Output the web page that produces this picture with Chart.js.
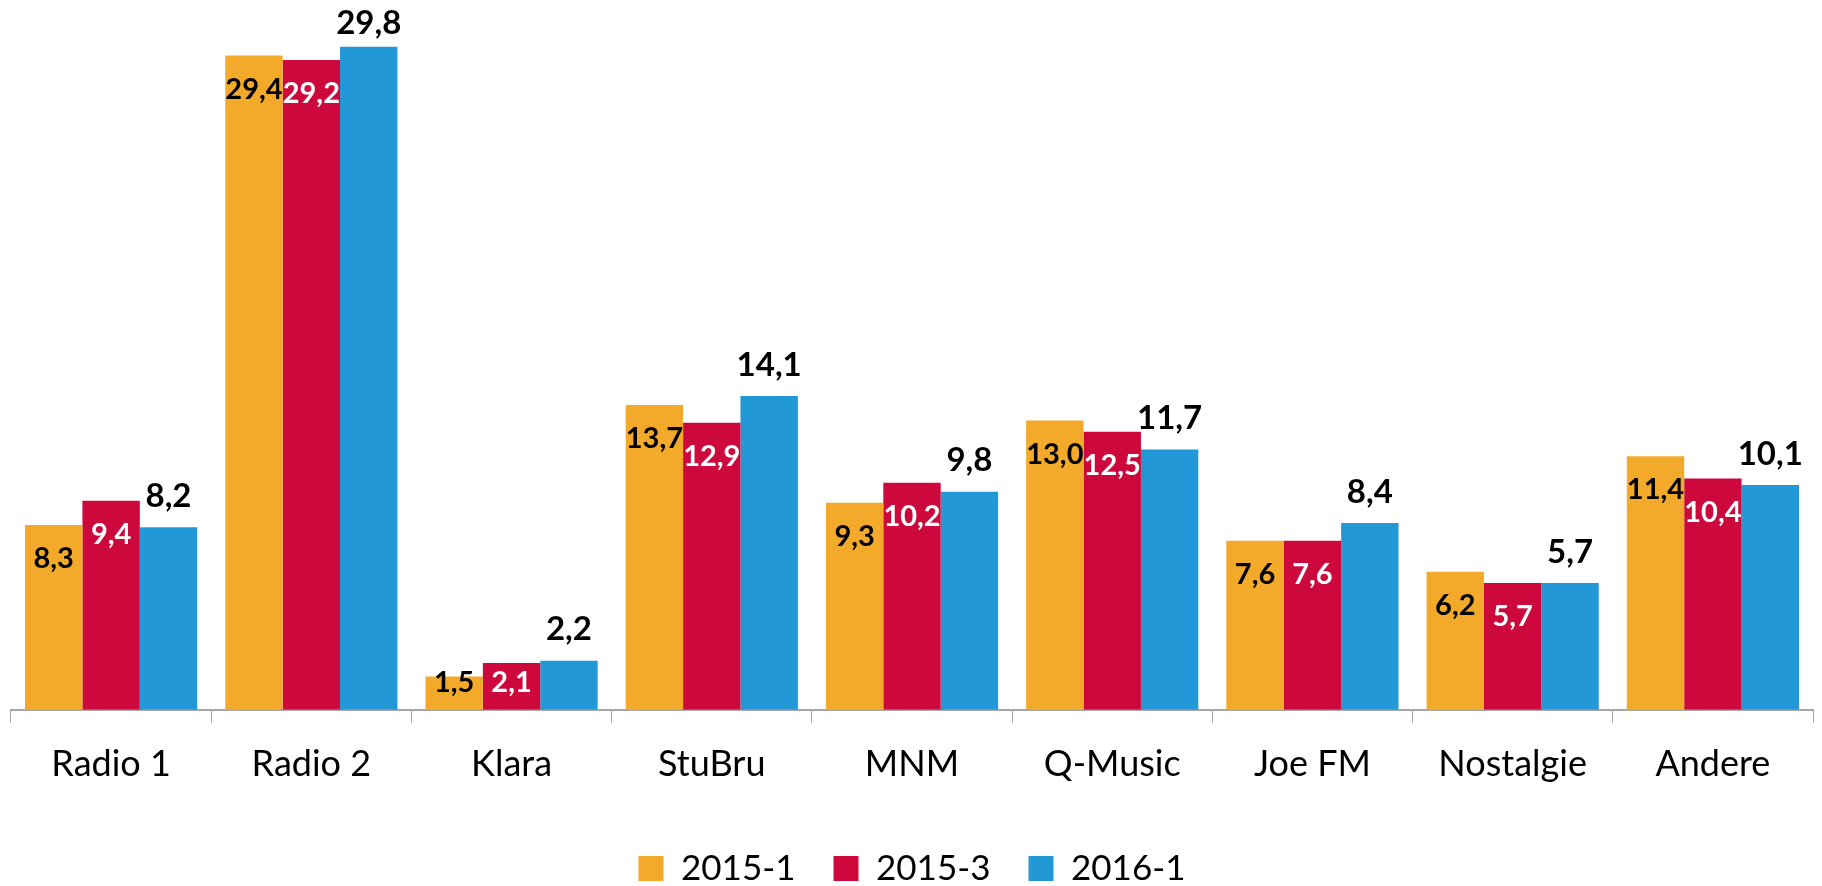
<!DOCTYPE html>
<html>
<head>
<meta charset="utf-8">
<script src="https://cdn.jsdelivr.net/npm/chart.js@4/dist/chart.umd.min.js"></script>
<style>
  html, body { margin: 0; padding: 0; background: #ffffff; }
  #wrap { width: 1822px; height: 886px; }
</style>
</head>
<body>
<div id="wrap"><canvas id="chart" width="1822" height="886"></canvas></div>
<script>
(function() {
  'use strict';

  var stations = ['Radio 1', 'Radio 2', 'Klara', 'StuBru', 'MNM', 'Q-Music', 'Joe FM', 'Nostalgie', 'Andere'];
  var periods  = ['2015-1', '2015-3', '2016-1'];
  var s2015_1  = [8.3, 29.4, 1.5, 13.7, 9.3, 13.0, 7.6, 6.2, 11.4];
  var s2015_3  = [9.4, 29.2, 2.1, 12.9, 10.2, 12.5, 7.6, 5.7, 10.4];
  var s2016_1  = [8.2, 29.8, 2.2, 14.1, 9.8, 11.7, 8.4, 5.7, 10.1];

  var ORANGE = '#f3aa2b';
  var RED    = '#cc083c';
  var BLUE   = '#2298d6';
  var AXIS   = '#a6a6a6';
  var FONT   = "Lato, 'Open Sans', sans-serif";

  function fmt(v) { return v.toFixed(1).replace('.', ','); }

  // value labels: first two series inside the top of the bar, last one above it
  var valueLabels = {
    id: 'valueLabels',
    afterDatasetsDraw: function(chart) {
      var ctx = chart.ctx;
      ctx.save();
      ctx.textAlign = 'center';
      ctx.textBaseline = 'middle';
      chart.data.datasets.forEach(function(ds, di) {
        var meta = chart.getDatasetMeta(di);
        meta.data.forEach(function(bar, i) {
          var txt = fmt(ds.data[i]);
          var y;
          if (di < 2) {
            ctx.font = 'bold 29px ' + FONT;
            ctx.fillStyle = di === 0 ? '#000000' : '#ffffff';
            y = Math.min(bar.y + 34, bar.base - 27);
          } else {
            ctx.font = 'bold 33px ' + FONT;
            ctx.fillStyle = '#000000';
            y = Math.max(bar.y - 31, 23);
          }
          ctx.fillText(txt, bar.x, y);
        });
      });
      ctx.restore();
    }
  };

  new Chart(document.getElementById('chart'), {
    type: 'bar',
    data: {
      labels: stations,
      datasets: [
        { label: periods[0], data: s2015_1, backgroundColor: ORANGE },
        { label: periods[1], data: s2015_3, backgroundColor: RED },
        { label: periods[2], data: s2016_1, backgroundColor: BLUE }
      ]
    },
    options: {
      responsive: false,
      animation: false,
      layout: { padding: { left: 11, right: 9, top: 20, bottom: -10 } },
      datasets: {
        bar: { categoryPercentage: 0.86, barPercentage: 1.0 }
      },
      plugins: {
        legend: {
          position: 'bottom',
          labels: {
            color: '#000000',
            font: { family: FONT, size: 35 },
            boxWidth: 25,
            boxHeight: 25,
            padding: 38
          }
        },
        tooltip: { enabled: false }
      },
      scales: {
        x: {
          afterFit: function(scale) { scale.height += 7; },
          grid: {
            display: true,
            drawOnChartArea: false,
            drawTicks: true,
            tickLength: 13,
            color: AXIS,
            offset: true
          },
          border: { display: true, color: AXIS, width: 2 },
          ticks: {
            color: '#000000',
            font: { family: FONT, size: 36 },
            padding: 20,
            maxRotation: 0
          }
        },
        y: {
          display: false,
          min: 0,
          max: 31
        }
      }
    },
    plugins: [valueLabels]
  });
})();
</script>
</body>
</html>
